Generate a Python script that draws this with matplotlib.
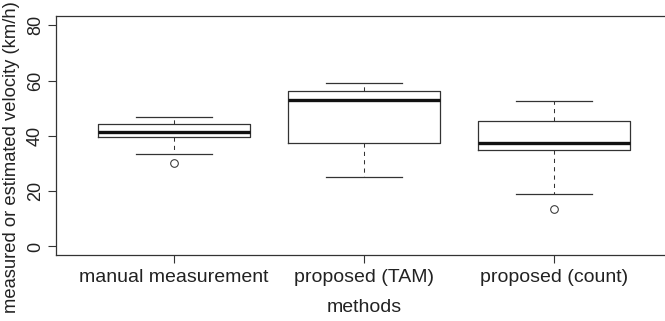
#! /usr/bin/env python3

'''
Boxplot of measured vs. estimated velocity for three methods (R-style look).
'''

import matplotlib
matplotlib.use('Agg')
import matplotlib.pyplot as plt

plt.rcParams['font.family'] = ['Liberation Sans', 'DejaVu Sans']

methods = ['manual measurement', 'proposed (TAM)', 'proposed (count)']

# five-number summaries (km/h)
whislo = [33.3, 25.0, 19.1]
q1 = [39.7, 37.5, 34.8]
med = [41.5, 53.0, 37.3]
q3 = [44.3, 56.3, 45.4]
whishi = [46.9, 59.0, 52.7]
fliers = [[30.1], [], [13.6]]

yticks = [0, 20, 40, 60, 80]

ylabel = 'measured or estimated velocity (km/h)'
xlabel = 'methods'

line_c = '#333333'


def despine_r(ax):
    'R-like full box'
    for spine in ax.spines.values():
        spine.set_color(line_c)
        spine.set_linewidth(0.9)


stats = [
    dict(whislo=whislo[i], q1=q1[i], med=med[i], q3=q3[i],
         whishi=whishi[i], fliers=fliers[i], label=methods[i])
    for i in range(len(methods))
]

fig = plt.figure(figsize=(6.65, 3.21), dpi=100)
ax = fig.add_axes([0.0842, 0.2047, 0.9257, 0.744])

ax.bxp(stats,
       positions=[1, 2, 3],
       widths=0.8,
       capwidths=0.4,
       boxprops=dict(color=line_c, linewidth=0.9),
       medianprops=dict(color='#111111', linewidth=2.4,
                        solid_capstyle='butt'),
       whiskerprops=dict(color=line_c, linewidth=0.75,
                         linestyle=(0, (4, 4))),
       capprops=dict(color=line_c, linewidth=0.9),
       flierprops=dict(marker='o', markersize=5.5, markerfacecolor='none',
                       markeredgecolor=line_c, markeredgewidth=0.75,
                       linestyle='none'))

ax.set_xlim(0.38, 3.62)
ax.set_ylim(-3.2, 83.2)
ax.set_yticks(yticks)
ax.set_yticklabels([str(v) for v in yticks], rotation=90, va='center',
                   fontsize=13)
ax.set_xticks([1, 2, 3])
ax.set_xticklabels(methods, fontsize=14)
ax.tick_params(axis='both', direction='out', length=5.8, width=0.8,
               color=line_c, colors='#222222')
ax.tick_params(axis='x', pad=4)
ax.tick_params(axis='y', pad=3)

ax.set_xlabel(xlabel, fontsize=14, color='#222222')
ax.xaxis.set_label_coords(0.5, -0.183)
ax.set_ylabel(ylabel, fontsize=13.2, color='#222222')
ax.yaxis.set_label_coords(-0.0585, 0.41)
despine_r(ax)

fig.savefig('out.png', dpi=100)
